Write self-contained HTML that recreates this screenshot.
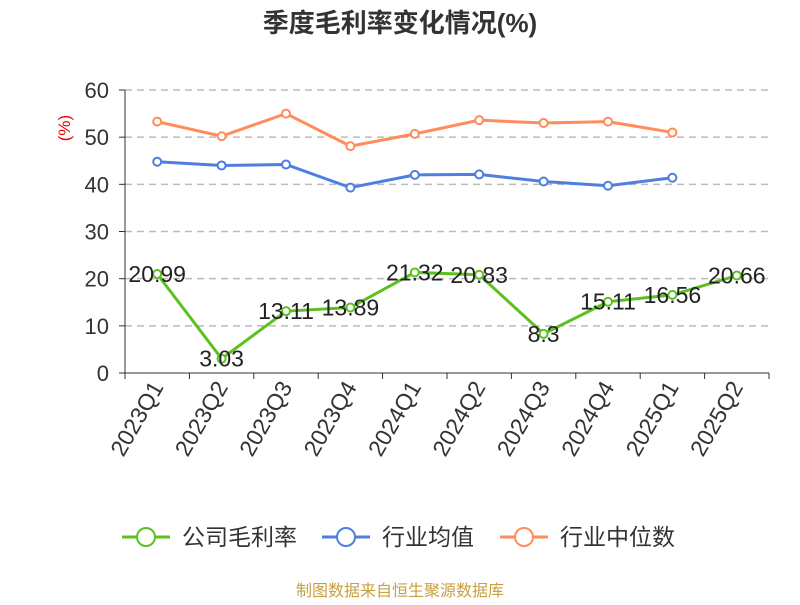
<!DOCTYPE html>
<html><head><meta charset="utf-8"><style>
body{margin:0;background:#fff;}
svg text{font-family:"Liberation Sans","Noto Sans CJK SC",sans-serif;}
</style></head><body>
<svg id="chart" width="800" height="600" xmlns="http://www.w3.org/2000/svg">
<text x="400" y="32" text-anchor="middle" font-size="26" font-weight="bold" fill="#333">季度毛利率变化情况(%)</text>
<text x="70" y="128" text-anchor="middle" font-size="17" fill="#e00" transform="rotate(-90 70 128)">(%)</text>
<g id="grid"></g><g id="axes"></g><g id="series"></g>
<g>
<g><line x1="122" y1="537" x2="170" y2="537" stroke="#5cc11f" stroke-width="3"/><circle cx="146" cy="537" r="9" fill="#fff" stroke="#5cc11f" stroke-width="2"/><text x="182" y="545" font-size="23" fill="#333">公司毛利率</text></g>
<g><line x1="322" y1="537" x2="370" y2="537" stroke="#4e7fe0" stroke-width="3"/><circle cx="346" cy="537" r="9" fill="#fff" stroke="#4e7fe0" stroke-width="2"/><text x="382" y="545" font-size="23" fill="#333">行业均值</text></g>
<g><line x1="500" y1="537" x2="548" y2="537" stroke="#ff8c5a" stroke-width="3"/><circle cx="524" cy="537" r="9" fill="#fff" stroke="#ff8c5a" stroke-width="2"/><text x="560" y="545" font-size="23" fill="#333">行业中位数</text></g>
</g>
<text x="400" y="596" text-anchor="middle" font-size="16" fill="#c8a040">制图数据来自恒生聚源数据库</text>
</svg>
<script>
const categories=["2023Q1","2023Q2","2023Q3","2023Q4","2024Q1","2024Q2","2024Q3","2024Q4","2025Q1","2025Q2"];
const company=[20.99,3.03,13.11,13.89,21.32,20.83,8.3,15.11,16.56,20.66];
const industryAvg=[44.8,44.0,44.2,39.3,42.0,42.1,40.6,39.7,41.4];
const industryMedian=[53.3,50.2,55.0,48.1,50.7,53.6,53.0,53.3,51.0];
const yTicks=[0,10,20,30,40,50,60];
const NS="http://www.w3.org/2000/svg";
const x0=125,x1=769,yTop=90,yBot=373,yMax=60;
const step=(x1-x0)/categories.length;
const X=i=>x0+step*(i+0.5);
const Y=v=>yBot-(v/yMax)*(yBot-yTop);
function mk(t,a,p){const e=document.createElementNS(NS,t);for(const k in a)e.setAttribute(k,a[k]);p.appendChild(e);return e;}
const grid=document.getElementById('grid'),axes=document.getElementById('axes'),ser=document.getElementById('series');
yTicks.forEach(v=>{
 if(v>0){const g=mk('line',{x1:x0,x2:x1,y1:Y(v),y2:Y(v),stroke:'#bbb','stroke-width':1.5,'stroke-dasharray':'7,5'},grid);
 
 }
 const tk=mk('line',{x1:x0-6,x2:x0,y1:Y(v),y2:Y(v),stroke:'#333'},axes);
 
 
 const t=mk('text',{x:x0-16,y:Y(v)+8,'text-anchor':'end','font-size':22,fill:'#333'},axes);t.textContent=v;
 
 
});
const ya=mk('line',{x1:x0,x2:x0,y1:yTop,y2:yBot,stroke:'#333'},axes);


const xa=mk('line',{x1:x0,x2:x1,y1:yBot,y2:yBot,stroke:'#333'},axes);


for(let i=0;i<=categories.length;i++){const l=mk('line',{x1:x0+step*i,x2:x0+step*i,y1:yBot,y2:yBot+6,stroke:'#333'},axes);
 
 }
categories.forEach((c,i)=>{const x=X(i)+7,y=yBot+14;
 const t=mk('text',{x:x,y:y,'text-anchor':'end','font-size':23,fill:'#333',transform:`rotate(-60 ${x} ${y})`},axes);t.textContent=c;
 
 });
function series(data,color,name,labels){
 const g=mk('g',{},ser);
 
 
 const p=mk('polyline',{points:data.map((v,i)=>X(i)+','+Y(v)).join(' '),fill:'none',stroke:color,'stroke-width':3},g);
 
 
 data.forEach((v,i)=>{const c=mk('circle',{cx:X(i),cy:Y(v),r:4,fill:'#fff',stroke:color,'stroke-width':2},g);
  
  
  if(labels){const t=mk('text',{x:X(i),y:Y(v)+8,'text-anchor':'middle','font-size':23,fill:'#222'},g);t.textContent=v;
   
   }});
}
series(industryMedian,'#ff8c5a','industry-median-series',false);
series(industryAvg,'#4e7fe0','industry-avg-series',false);
series(company,'#5cc11f','company-series',true);
</script>
</body></html>
